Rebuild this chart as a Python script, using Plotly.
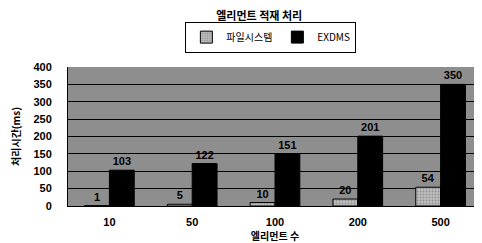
import plotly.graph_objects as go

categories = ["10", "50", "100", "200", "500"]
fs_values = [1, 5, 10, 20, 54]
exdms_values = [103, 122, 151, 201, 350]
y_ticks = [0, 50, 100, 150, 200, 250, 300, 350, 400]

font_kr = "Noto Sans CJK KR"
font_num = "Liberation Sans, Arial"

W, H = 474, 235  # page body has an 8px margin inside the 482x243 window

fig = go.Figure()
fig.add_trace(go.Bar(
    x=categories, y=fs_values, name="파일시스템",
    marker=dict(color="#bdbdbd", line=dict(color="black", width=1),
                pattern=dict(shape=".", fgcolor="#666666", size=3, solidity=0.3)),
    text=[str(v) for v in fs_values], textposition="outside",
    textfont=dict(family=font_num, size=11, color="black", weight="bold"),
    cliponaxis=False,
))
fig.add_trace(go.Bar(
    x=categories, y=exdms_values, name="EXDMS",
    marker=dict(color="black", line=dict(color="black", width=1)),
    text=[str(v) for v in exdms_values], textposition="outside",
    textfont=dict(family=font_num, size=11, color="black", weight="bold"),
    cliponaxis=False,
))

fig.update_layout(
    width=W, height=H,
    margin=dict(l=60, r=0, t=59, b=37, autoexpand=False),
    paper_bgcolor="white",
    plot_bgcolor="#8e8e8e",
    barmode="group", bargap=0.4, bargroupgap=0,
    title=dict(text="<b>엘리먼트 적재 처리</b>", x=0.53, xanchor="center",
               y=1 - 8 / H, yanchor="middle", yref="container",
               font=dict(family=font_kr, size=11, color="black")),
    legend=dict(orientation="h", x=0.49, xanchor="center", y=1.215, yanchor="middle",
                bordercolor="black", borderwidth=1, bgcolor="white",
                font=dict(family=font_kr, size=10, color="black"),
                itemwidth=30, tracegroupgap=0),
    showlegend=True,
    font=dict(family=font_num, color="black"),
)
fig.update_xaxes(
    showgrid=False, showline=True, linecolor="black", linewidth=1,
    automargin=False,
    tickfont=dict(family=font_num, size=11, color="black", weight="bold"),
    ticklabelstandoff=6,
    title=dict(text="<b>엘리먼트 수</b>", font=dict(family=font_kr, size=10, color="black"), standoff=5),
)
fig.update_yaxes(
    range=[0, 400], tickvals=y_ticks, showgrid=True, gridcolor="black", gridwidth=1,
    zeroline=False, showline=True, linecolor="black", linewidth=1,
    automargin=False,
    tickfont=dict(family=font_num, size=11, color="black", weight="bold"),
    ticklabelstandoff=13,
    title=dict(text="<b>처리시간(ms)</b>", font=dict(family=font_kr, size=10, color="black"), standoff=18),
)

fig.write_html("out.html")
